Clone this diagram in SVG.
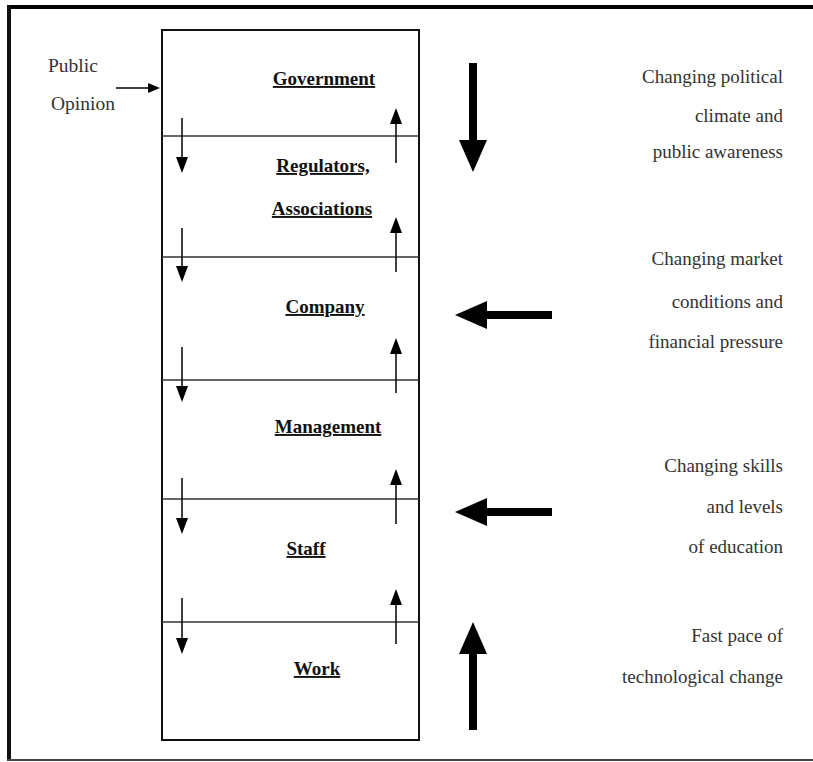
<svg xmlns="http://www.w3.org/2000/svg" width="813" height="762" viewBox="0 0 813 762">
<style>
.lbl{font-family:"Liberation Serif","Times New Roman","DejaVu Serif",serif;font-weight:bold;font-size:19px;fill:#111;text-anchor:middle;text-decoration:underline}
.side{font-family:"Liberation Serif","Times New Roman","DejaVu Serif",serif;font-size:19px;fill:#333;text-anchor:end}
.pub{font-family:"Liberation Serif","Times New Roman","DejaVu Serif",serif;font-size:19.5px;fill:#333}
.thin{stroke:#111;stroke-width:1.6;fill:none}
.big{stroke:#000;stroke-width:8;fill:none}
.sep{stroke:#333;stroke-width:1.6}
</style>
<defs>
<marker id="sm" markerUnits="userSpaceOnUse" markerWidth="16" markerHeight="12" refX="0" refY="6" orient="auto"><path d="M0,0 L16,6 L0,12 z" fill="#000"/></marker>
<marker id="pm" markerUnits="userSpaceOnUse" markerWidth="12" markerHeight="10" refX="0" refY="5" orient="auto"><path d="M0,0 L12,5 L0,10 z" fill="#000"/></marker>
<marker id="bg" markerUnits="userSpaceOnUse" markerWidth="32" markerHeight="28" refX="0" refY="14" orient="auto"><path d="M0,0 L32,14 L0,28 z" fill="#000"/></marker>
</defs>
<rect width="813" height="762" fill="#fff"/>
<g id="frame">
<line x1="7" y1="7" x2="813" y2="7" stroke="#000" stroke-width="4"/>
<line x1="9" y1="5" x2="9" y2="760" stroke="#111" stroke-width="4"/>
<line x1="7" y1="760" x2="813" y2="760" stroke="#444" stroke-width="2"/>
</g>
<g id="stack">
<rect x="162" y="30" width="257" height="710" fill="none" stroke="#111" stroke-width="2"/>
<line class="sep" x1="162" y1="136" x2="419" y2="136"/>
<line class="sep" x1="162" y1="257" x2="419" y2="257"/>
<line class="sep" x1="162" y1="380" x2="419" y2="380"/>
<line class="sep" x1="162" y1="499" x2="419" y2="499"/>
<line class="sep" x1="162" y1="622" x2="419" y2="622"/>
</g>
<g id="government"><text class="lbl" x="324" y="85">Government</text></g>
<g id="regulators"><text class="lbl" x="323" y="172">Regulators,</text><text class="lbl" x="322" y="215">Associations</text></g>
<g id="company"><text class="lbl" x="325" y="313">Company</text></g>
<g id="management"><text class="lbl" x="328" y="433">Management</text></g>
<g id="staff"><text class="lbl" x="306" y="555">Staff</text></g>
<g id="work"><text class="lbl" x="317" y="675">Work</text></g>
<g id="public-opinion"><text class="pub" x="48" y="72">Public</text><text class="pub" x="51" y="110">Opinion</text></g>
<g id="factor-political"><text class="side" x="783" y="83">Changing political</text><text class="side" x="783" y="122">climate and</text><text class="side" x="783" y="158">public awareness</text></g>
<g id="factor-market"><text class="side" x="783" y="265">Changing market</text><text class="side" x="783" y="308">conditions and</text><text class="side" x="783" y="348">financial pressure</text></g>
<g id="factor-skills"><text class="side" x="783" y="472">Changing skills</text><text class="side" x="783" y="513">and levels</text><text class="side" x="783" y="553">of education</text></g>
<g id="factor-tech"><text class="side" x="783" y="642">Fast pace of</text><text class="side" x="783" y="683">technological change</text></g>
<g id="connectors">
<line class="thin" x1="116" y1="88" x2="148" y2="88" marker-end="url(#pm)"/>
<line class="thin" x1="182" y1="118" x2="182" y2="157" marker-end="url(#sm)"/>
<line class="thin" x1="182" y1="228" x2="182" y2="266" marker-end="url(#sm)"/>
<line class="thin" x1="182" y1="347" x2="182" y2="386" marker-end="url(#sm)"/>
<line class="thin" x1="182" y1="478" x2="182" y2="518" marker-end="url(#sm)"/>
<line class="thin" x1="182" y1="598" x2="182" y2="638" marker-end="url(#sm)"/>
<line class="thin" x1="396" y1="163" x2="396" y2="124" marker-end="url(#sm)"/>
<line class="thin" x1="396" y1="272" x2="396" y2="233" marker-end="url(#sm)"/>
<line class="thin" x1="396" y1="393" x2="396" y2="354" marker-end="url(#sm)"/>
<line class="thin" x1="396" y1="524" x2="396" y2="485" marker-end="url(#sm)"/>
<line class="thin" x1="396" y1="644" x2="396" y2="605" marker-end="url(#sm)"/>
<line class="big" x1="473" y1="63" x2="473" y2="140" marker-end="url(#bg)"/>
<line class="big" x1="552" y1="315" x2="487" y2="315" marker-end="url(#bg)"/>
<line class="big" x1="552" y1="512" x2="487" y2="512" marker-end="url(#bg)"/>
<line class="big" x1="473" y1="730" x2="473" y2="654" marker-end="url(#bg)"/>
</g>
</svg>
